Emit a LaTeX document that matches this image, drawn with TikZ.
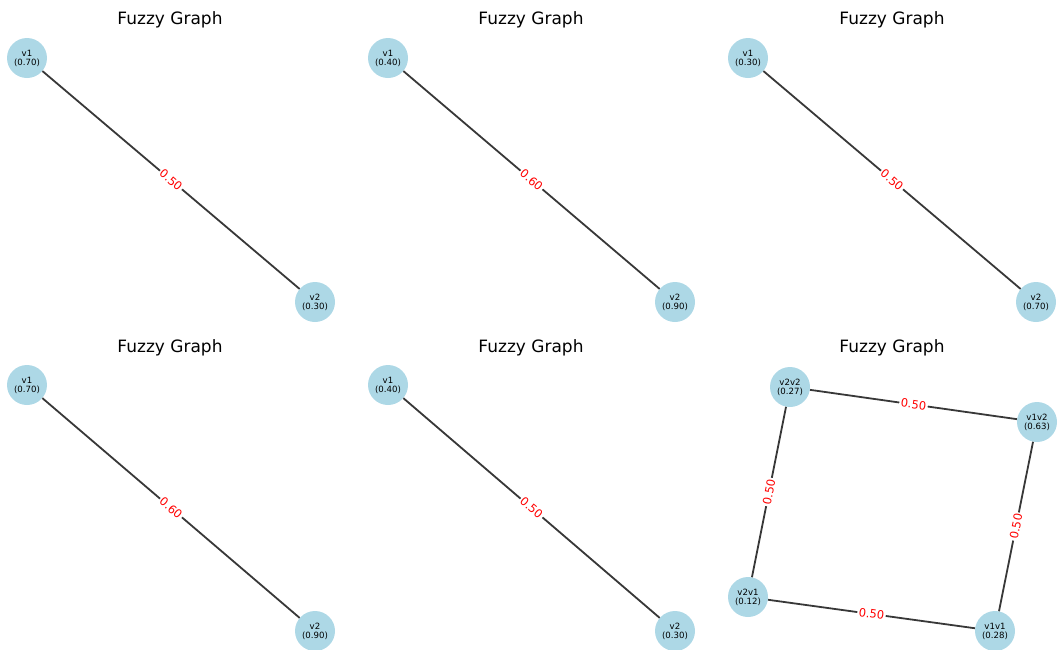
\documentclass[tikz,border=0pt]{standalone}
\usepackage{fontspec}
\setmainfont{DejaVu Sans}
\definecolor{nodeblue}{HTML}{ADD8E6}
\definecolor{edgegray}{HTML}{383838}
\tikzset{
    vertex/.style={circle, fill=nodeblue, minimum size=40pt, inner sep=0pt,
        align=center, font=\fontsize{8.6}{9}\selectfont},
    edge/.style={draw=edgegray, line width=1.8pt},
    weight/.style={sloped, fill=white, text=red, inner sep=1.5pt,
        font=\fontsize{11.5}{12}\selectfont},
    plottitle/.style={font=\fontsize{17}{18}\selectfont}
}
\begin{document}
\begin{tikzpicture}[x=1pt, y=-1pt]
        \useasboundingbox (0,0) rectangle (1059,649);
        % top row
        \node[plottitle] (t1) at (170,20) {Fuzzy Graph};
        \node[vertex] (a1) at (27,58) {v1\\(0.70)};
        \node[vertex] (b1) at (315,302) {v2\\(0.30)};
        \draw[edge] (a1) -- node[weight] {0.50} (b1);

        \node[plottitle] (t2) at (531,20) {Fuzzy Graph};
        \node[vertex] (a2) at (388,58) {v1\\(0.40)};
        \node[vertex] (b2) at (675,302) {v2\\(0.90)};
        \draw[edge] (a2) -- node[weight] {0.60} (b2);

        \node[plottitle] (t3) at (892,20) {Fuzzy Graph};
        \node[vertex] (a3) at (748,58) {v1\\(0.30)};
        \node[vertex] (b3) at (1036,302) {v2\\(0.70)};
        \draw[edge] (a3) -- node[weight] {0.50} (b3);

        % bottom row
        \node[plottitle] (t4) at (170,348) {Fuzzy Graph};
        \node[vertex] (a4) at (27,385) {v1\\(0.70)};
        \node[vertex] (b4) at (315,631) {v2\\(0.90)};
        \draw[edge] (a4) -- node[weight] {0.60} (b4);

        \node[plottitle] (t5) at (531,348) {Fuzzy Graph};
        \node[vertex] (a5) at (388,385) {v1\\(0.40)};
        \node[vertex] (b5) at (675,631) {v2\\(0.30)};
        \draw[edge] (a5) -- node[weight] {0.50} (b5);

        % product graph
        \node[plottitle] (t6) at (892,348) {Fuzzy Graph};
        \node[vertex] (v22) at (790,387) {v2v2\\(0.27)};
        \node[vertex] (v12) at (1037,422) {v1v2\\(0.63)};
        \node[vertex] (v21) at (748,597) {v2v1\\(0.12)};
        \node[vertex] (v11) at (995,631) {v1v1\\(0.28)};
        \draw[edge] (v22) -- node[weight] {0.50} (v12);
        \draw[edge] (v22) -- node[weight] {0.50} (v21);
        \draw[edge] (v12) -- node[weight] {0.50} (v11);
        \draw[edge] (v21) -- node[weight] {0.50} (v11);
    \end{tikzpicture}
\end{document}
